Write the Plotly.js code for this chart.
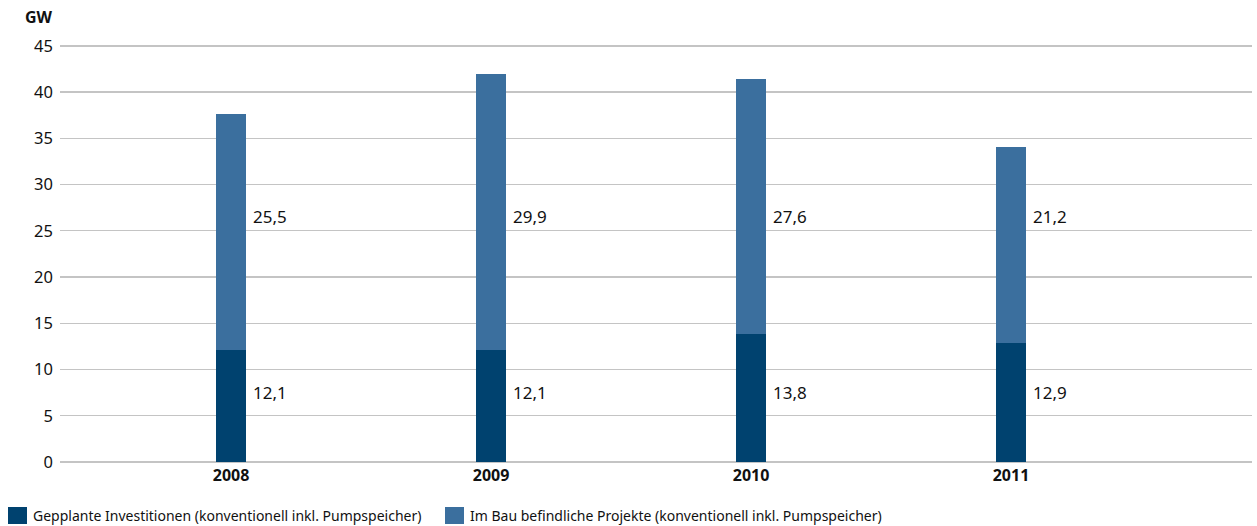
<!DOCTYPE html>
<html>
<head>
<meta charset="utf-8">
<script src="https://cdn.plot.ly/plotly-3.0.1.min.js"></script>
<style>
  html, body { margin: 0; padding: 0; background: #fff; }
  #chart { width: 1257px; height: 526px; }
</style>
</head>
<body>
<div id="chart"></div>
<script>
// Kraftwerksprojekte in Deutschland, GW
const years = ['2008', '2009', '2010', '2011'];
const geplant = [12.1, 12.1, 13.8, 12.9];
const imBau = [25.5, 29.9, 27.6, 21.2];
const seriesNames = [
  'Gepplante Investitionen (konventionell inkl. Pumpspeicher)',
  'Im Bau befindliche Projekte (konventionell inkl. Pumpspeicher)'
];
const yTicks = [0, 5, 10, 15, 20, 25, 30, 35, 40, 45];

const colDark = '#00426f';
const colLight = '#3b6f9e';
const font = 'Noto Sans, Open Sans, sans-serif';
const txt = '#111';

const fmt = v => v.toFixed(1).replace('.', ',');

const traces = [
  { type: 'bar', x: years, y: geplant, name: seriesNames[0],
    marker: { color: colDark }, width: 0.118, hoverinfo: 'skip' },
  { type: 'bar', x: years, y: imBau, name: seriesNames[1],
    marker: { color: colLight }, width: 0.118, hoverinfo: 'skip' }
];

// value labels to the right of each bar (x by category index)
const annotations = [];
years.forEach((yr, i) => {
  annotations.push({ x: i, y: 7.5, xref: 'x', yref: 'y', text: fmt(geplant[i]),
    showarrow: false, xanchor: 'left', xshift: 20, font: { family: font, size: 17, color: txt } });
  annotations.push({ x: i, y: 26.6, xref: 'x', yref: 'y', text: fmt(imBau[i]),
    showarrow: false, xanchor: 'left', xshift: 20, font: { family: font, size: 17, color: txt } });
});
// unit label above the value axis
annotations.push({ x: 0, y: 1, xref: 'paper', yref: 'paper', xanchor: 'left', yanchor: 'bottom',
  xshift: -37, yshift: 14, text: '<b>GW</b>', showarrow: false,
  font: { family: font, size: 16, color: txt } });

// legend below the plot: coloured square + series name
const legendItems = [
  { color: colDark, name: seriesNames[0], px: -52 },
  { color: colLight, name: seriesNames[1], px: 385 }
];
const shapes = [];
legendItems.forEach(it => {
  shapes.push({ type: 'rect', xref: 'paper', yref: 'paper', xsizemode: 'pixel', ysizemode: 'pixel',
    xanchor: 0, yanchor: 0, x0: it.px, x1: it.px + 19, y0: -45, y1: -62,
    fillcolor: it.color, line: { width: 0 } });
  annotations.push({ x: 0, y: 0, xref: 'paper', yref: 'paper', xanchor: 'left', yanchor: 'middle',
    xshift: it.px + 23, yshift: -53, text: it.name, showarrow: false,
    font: { family: font, size: 14, color: txt } });
});

const layout = {
  width: 1257, height: 526,
  margin: { l: 60, r: 5, t: 44, b: 64 },
  paper_bgcolor: '#fff', plot_bgcolor: '#fff',
  barmode: 'stack',
  font: { family: font, size: 16, color: txt },
  xaxis: {
    type: 'category', range: [-0.658, 3.927],
    showgrid: false, zeroline: false, showline: false, ticks: '',
    tickfont: { family: font, size: 16, color: txt, weight: 'bold' },
    ticklabelstandoff: 2
  },
  yaxis: {
    range: [0, 45.2], tickvals: yTicks, ticktext: yTicks.map(String),
    showgrid: true, gridcolor: '#c4c4c4', gridwidth: 1.3,
    zeroline: true, zerolinecolor: '#c4c4c4', zerolinewidth: 1.3,
    showline: false, ticks: '', ticklabelstandoff: 6,
    tickfont: { family: font, size: 16.5, color: txt }
  },
  showlegend: false,
  shapes: shapes,
  annotations: annotations
};

Plotly.newPlot('chart', traces, layout, { displayModeBar: false, staticPlot: true });
</script>
</body>
</html>
